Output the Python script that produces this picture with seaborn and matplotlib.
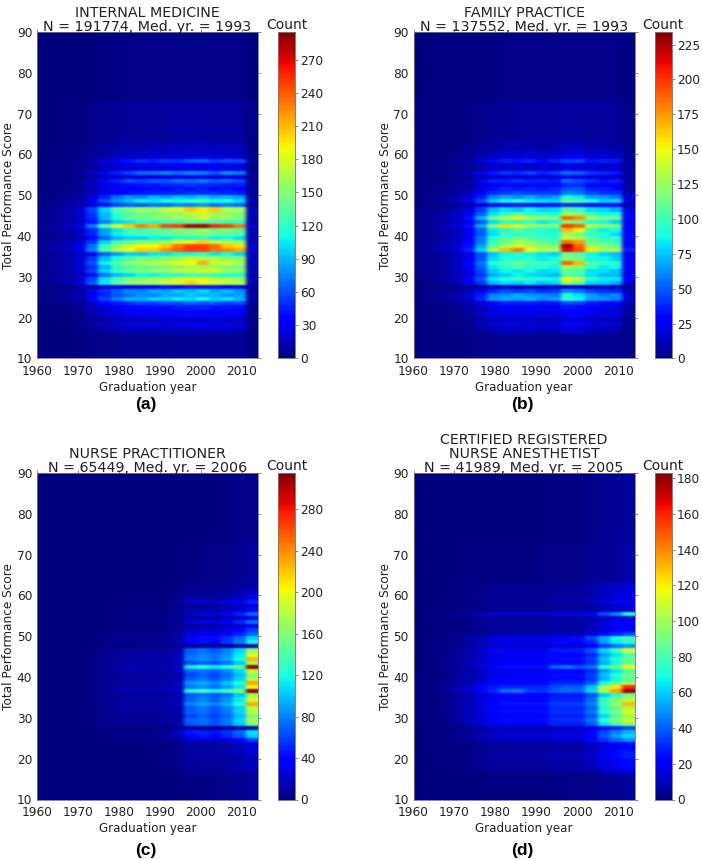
"""
Four heatmaps of total performance score against graduation year
"""

import numpy as np
import pandas as pd
import matplotlib
matplotlib.use("Agg")
import matplotlib.pyplot as plt
import seaborn as sns

YEARS = [1960, 1963, 1966, 1969, 1972, 1975, 1978, 1981, 1984,
         1987, 1990, 1993, 1996, 1999, 2002, 2005, 2008, 2011]
SCORES = list(range(62, 15, -1))

# one row per score, from 62 down to 16, one column per entry in YEARS
medicine = [
    [1, 1, 2, 2, 4, 7, 9, 12, 11, 13, 14, 16, 14, 17, 14, 15, 13, 2],
    [1, 1, 2, 3, 5, 8, 11, 14, 12, 15, 14, 17, 16, 16, 15, 16, 14, 2],
    [1, 1, 2, 3, 6, 10, 14, 15, 18, 16, 19, 18, 21, 18, 20, 17, 18, 3],
    [1, 2, 2, 3, 6, 11, 15, 18, 16, 21, 19, 23, 21, 24, 19, 21, 18, 3],
    [2, 3, 4, 6, 12, 22, 34, 42, 50, 46, 54, 52, 60, 66, 55, 60, 58, 7],
    [1, 2, 3, 4, 9, 15, 21, 26, 24, 28, 26, 30, 28, 32, 27, 29, 25, 4],
    [1, 2, 2, 4, 8, 14, 19, 21, 24, 23, 26, 25, 29, 26, 27, 24, 26, 4],
    [2, 3, 5, 8, 16, 32, 46, 56, 68, 70, 78, 68, 78, 74, 62, 80, 72, 8],
    [1, 2, 2, 4, 8, 14, 19, 23, 21, 25, 23, 27, 25, 28, 24, 26, 23, 4],
    [2, 3, 5, 7, 18, 36, 48, 60, 56, 64, 62, 72, 66, 74, 64, 68, 58, 7],
    [1, 2, 4, 6, 14, 25, 33, 38, 43, 41, 47, 44, 51, 48, 48, 43, 46, 5],
    [1, 2, 3, 6, 13, 22, 30, 37, 34, 40, 37, 44, 40, 46, 38, 42, 37, 5],
    [2, 3, 4, 7, 15, 28, 34, 38, 44, 42, 48, 46, 52, 48, 50, 44, 46, 6],
    [2, 4, 5, 9, 24, 46, 68, 82, 76, 90, 84, 94, 88, 96, 86, 90, 80, 9],
    [3, 5, 8, 13, 30, 60, 80, 92, 108, 102, 116, 110, 122, 128, 110, 116, 102, 11],
    [2, 4, 6, 10, 22, 40, 54, 64, 62, 70, 68, 76, 74, 82, 70, 74, 66, 8],
    [5, 8, 13, 22, 56, 100, 132, 148, 158, 156, 172, 182, 205, 195, 205, 168, 165, 16],
    [5, 8, 12, 20, 52, 92, 118, 132, 146, 142, 156, 150, 168, 172, 160, 152, 148, 14],
    [4, 7, 11, 20, 48, 90, 118, 142, 138, 156, 150, 168, 158, 182, 156, 164, 146, 13],
    [4, 6, 10, 16, 42, 74, 96, 104, 118, 112, 126, 122, 136, 130, 130, 118, 122, 11],
    [6, 10, 15, 26, 72, 135, 185, 205, 228, 215, 245, 250, 280, 285, 258, 250, 232, 22],
    [4, 7, 11, 18, 46, 82, 104, 124, 120, 132, 130, 146, 142, 156, 138, 144, 130, 13],
    [4, 7, 11, 18, 48, 84, 108, 120, 132, 130, 142, 140, 152, 150, 146, 136, 138, 13],
    [3, 6, 9, 15, 38, 66, 88, 100, 98, 108, 106, 116, 114, 122, 108, 114, 102, 11],
    [5, 8, 13, 22, 54, 98, 124, 136, 150, 150, 162, 180, 190, 202, 172, 168, 156, 16],
    [6, 10, 16, 26, 68, 122, 155, 178, 188, 190, 205, 232, 250, 248, 235, 205, 198, 20],
    [7, 12, 17, 30, 74, 132, 168, 188, 205, 205, 225, 238, 250, 248, 232, 228, 215, 22],
    [3, 6, 9, 14, 36, 64, 82, 96, 94, 104, 104, 114, 110, 122, 104, 112, 100, 11],
    [5, 8, 12, 20, 52, 92, 116, 128, 144, 138, 152, 154, 176, 162, 164, 148, 152, 14],
    [6, 9, 14, 24, 60, 108, 136, 158, 160, 172, 172, 186, 186, 215, 176, 185, 166, 17],
    [5, 8, 12, 20, 50, 88, 116, 126, 138, 138, 148, 150, 164, 158, 156, 142, 146, 14],
    [5, 9, 13, 22, 56, 98, 124, 144, 146, 156, 158, 172, 168, 182, 182, 162, 154, 16],
    [4, 6, 10, 16, 40, 70, 92, 100, 110, 108, 118, 116, 128, 124, 122, 112, 114, 11],
    [5, 8, 13, 22, 56, 102, 128, 148, 150, 162, 162, 178, 176, 185, 166, 168, 158, 16],
    [6, 9, 14, 24, 62, 106, 138, 152, 166, 164, 176, 182, 202, 188, 186, 172, 172, 17],
    [1, 2, 3, 6, 13, 22, 30, 33, 38, 36, 41, 39, 44, 42, 42, 38, 40, 4],
    [3, 5, 7, 12, 28, 50, 64, 78, 76, 88, 84, 96, 90, 102, 86, 94, 80, 8],
    [3, 4, 7, 11, 27, 48, 62, 70, 80, 76, 88, 84, 96, 88, 92, 80, 86, 8],
    [3, 5, 8, 12, 32, 56, 72, 88, 86, 98, 96, 108, 100, 114, 96, 104, 90, 9],
    [2, 3, 5, 8, 19, 34, 44, 50, 58, 54, 62, 58, 68, 62, 64, 56, 60, 6],
    [1, 2, 3, 6, 13, 23, 30, 36, 34, 40, 38, 44, 42, 46, 40, 42, 37, 4],
    [1, 2, 3, 5, 11, 20, 25, 29, 34, 31, 36, 34, 40, 36, 38, 33, 35, 4],
    [1, 2, 3, 4, 10, 18, 24, 29, 27, 31, 30, 34, 33, 37, 31, 33, 29, 3],
    [1, 1, 1, 2, 5, 8, 10, 12, 14, 12, 15, 13, 16, 14, 15, 13, 14, 2],
    [1, 1, 2, 4, 9, 15, 21, 26, 24, 28, 26, 30, 28, 32, 27, 29, 25, 4],
    [1, 1, 1, 3, 6, 10, 13, 15, 18, 16, 19, 18, 20, 19, 20, 17, 18, 3],
    [1, 1, 1, 2, 5, 8, 11, 13, 12, 14, 13, 15, 14, 16, 13, 15, 13, 2],
]
family = [
    [0, 1, 1, 1, 3, 5, 8, 9, 11, 9, 10, 9, 13, 11, 10, 9, 9, 3],
    [0, 1, 1, 1, 3, 6, 7, 10, 9, 11, 9, 10, 12, 13, 9, 10, 8, 3],
    [1, 1, 1, 2, 4, 8, 12, 15, 14, 15, 13, 14, 18, 20, 13, 14, 12, 4],
    [1, 1, 1, 3, 5, 10, 14, 18, 16, 18, 15, 17, 22, 23, 16, 17, 14, 5],
    [1, 2, 3, 5, 8, 18, 28, 35, 32, 36, 30, 36, 44, 46, 32, 36, 34, 8],
    [1, 1, 1, 2, 4, 9, 14, 14, 17, 14, 15, 13, 21, 19, 16, 13, 15, 4],
    [1, 1, 1, 3, 5, 10, 15, 16, 19, 16, 17, 15, 24, 21, 18, 15, 16, 5],
    [1, 2, 3, 6, 11, 22, 34, 42, 38, 44, 36, 42, 56, 52, 42, 38, 34, 10],
    [1, 1, 1, 3, 4, 10, 14, 18, 16, 18, 15, 17, 22, 23, 16, 17, 14, 5],
    [1, 2, 3, 6, 10, 22, 36, 36, 42, 36, 38, 34, 54, 48, 40, 33, 36, 10],
    [1, 2, 2, 4, 8, 16, 24, 30, 28, 31, 26, 30, 38, 39, 28, 29, 25, 8],
    [1, 2, 3, 5, 10, 20, 31, 38, 35, 38, 34, 37, 48, 50, 36, 36, 31, 9],
    [1, 2, 4, 6, 12, 24, 38, 42, 48, 42, 44, 42, 60, 56, 46, 40, 40, 11],
    [2, 3, 5, 9, 16, 35, 60, 68, 62, 70, 60, 66, 88, 84, 66, 64, 56, 16],
    [3, 4, 7, 11, 22, 46, 76, 86, 94, 84, 82, 78, 112, 104, 90, 76, 78, 20],
    [1, 2, 2, 4, 8, 16, 26, 28, 32, 28, 28, 26, 39, 36, 30, 26, 27, 8],
    [2, 4, 6, 10, 20, 42, 72, 82, 76, 86, 78, 80, 106, 100, 80, 78, 70, 20],
    [3, 5, 8, 12, 24, 50, 82, 94, 104, 94, 94, 88, 128, 118, 98, 86, 88, 24],
    [4, 7, 10, 16, 32, 70, 112, 136, 154, 130, 124, 118, 188, 178, 130, 118, 114, 30],
    [3, 4, 7, 12, 22, 48, 80, 90, 88, 94, 84, 88, 118, 112, 88, 86, 78, 22],
    [4, 7, 10, 16, 32, 68, 122, 158, 146, 132, 122, 122, 200, 188, 136, 122, 118, 30],
    [3, 5, 8, 12, 24, 50, 84, 92, 104, 92, 94, 86, 168, 150, 98, 84, 88, 24],
    [3, 5, 8, 12, 24, 50, 80, 98, 94, 100, 90, 94, 126, 118, 92, 92, 80, 24],
    [3, 5, 8, 14, 26, 56, 92, 102, 112, 102, 100, 94, 138, 130, 108, 92, 96, 26],
    [3, 6, 9, 14, 28, 58, 96, 112, 132, 126, 108, 104, 186, 174, 110, 104, 96, 28],
    [4, 6, 10, 16, 32, 66, 110, 128, 138, 130, 122, 118, 226, 188, 128, 118, 112, 31],
    [4, 7, 12, 18, 36, 78, 130, 165, 182, 150, 135, 130, 212, 195, 155, 130, 130, 36],
    [3, 4, 7, 11, 22, 46, 74, 86, 92, 86, 82, 76, 112, 104, 86, 78, 74, 21],
    [3, 4, 7, 12, 22, 48, 80, 90, 88, 94, 84, 88, 118, 112, 88, 86, 78, 22],
    [3, 5, 8, 14, 26, 56, 94, 104, 112, 104, 100, 96, 190, 168, 106, 94, 94, 26],
    [3, 5, 8, 12, 24, 50, 84, 94, 104, 92, 94, 86, 126, 118, 98, 84, 88, 24],
    [3, 4, 7, 11, 22, 46, 76, 86, 84, 88, 80, 82, 112, 104, 82, 82, 74, 21],
    [2, 4, 6, 10, 20, 42, 68, 78, 86, 78, 76, 72, 104, 98, 82, 72, 72, 20],
    [3, 5, 8, 12, 24, 50, 84, 92, 100, 94, 90, 86, 150, 138, 94, 84, 84, 24],
    [2, 4, 6, 10, 20, 42, 72, 80, 76, 84, 74, 78, 124, 110, 78, 76, 68, 20],
    [1, 1, 1, 2, 4, 8, 13, 15, 15, 15, 14, 13, 20, 19, 14, 13, 13, 4],
    [1, 2, 4, 6, 12, 24, 38, 46, 42, 46, 40, 42, 62, 56, 44, 40, 38, 11],
    [2, 3, 5, 9, 16, 35, 58, 62, 70, 62, 62, 56, 92, 80, 66, 55, 62, 16],
    [2, 4, 6, 9, 18, 38, 64, 70, 66, 72, 62, 66, 94, 86, 66, 64, 58, 18],
    [1, 2, 3, 5, 9, 18, 30, 35, 33, 35, 32, 32, 46, 44, 34, 31, 30, 9],
    [1, 1, 2, 4, 7, 13, 21, 25, 24, 25, 22, 23, 33, 31, 24, 23, 20, 6],
    [1, 1, 2, 3, 6, 12, 19, 22, 20, 22, 20, 21, 29, 27, 22, 19, 19, 6],
    [1, 1, 2, 3, 6, 12, 20, 20, 23, 20, 21, 19, 30, 28, 21, 20, 18, 6],
    [0, 1, 1, 2, 3, 6, 10, 12, 12, 12, 10, 11, 16, 15, 11, 11, 10, 3],
    [1, 1, 2, 3, 6, 12, 19, 22, 20, 22, 20, 21, 29, 27, 22, 19, 19, 6],
    [0, 1, 1, 2, 3, 7, 12, 13, 15, 13, 13, 12, 18, 18, 13, 13, 11, 4],
    [0, 1, 1, 2, 3, 6, 10, 12, 11, 12, 10, 11, 16, 15, 11, 11, 9, 3],
]
nurse = [
    [0, 0, 0, 0, 0, 0, 0, 1, 1, 1, 1, 2, 4, 4, 5, 6, 8, 12],
    [0, 0, 0, 0, 0, 0, 1, 1, 1, 1, 1, 2, 5, 5, 6, 7, 10, 15],
    [0, 0, 0, 0, 0, 0, 1, 1, 1, 1, 2, 3, 7, 7, 7, 9, 13, 20],
    [0, 0, 0, 0, 0, 1, 1, 1, 2, 2, 2, 4, 10, 10, 10, 12, 18, 30],
    [0, 0, 0, 0, 1, 1, 2, 3, 3, 3, 4, 8, 20, 22, 20, 28, 32, 50],
    [0, 0, 0, 0, 0, 1, 1, 1, 2, 2, 2, 3, 8, 8, 9, 11, 16, 25],
    [0, 0, 0, 0, 0, 1, 1, 2, 2, 2, 2, 4, 11, 12, 12, 15, 22, 35],
    [0, 0, 0, 0, 1, 1, 3, 3, 4, 4, 5, 8, 22, 26, 24, 35, 48, 72],
    [0, 0, 0, 0, 0, 1, 1, 2, 2, 2, 2, 3, 9, 10, 11, 14, 20, 30],
    [0, 0, 0, 0, 1, 1, 3, 3, 4, 4, 5, 9, 24, 30, 28, 38, 50, 74],
    [0, 0, 0, 0, 0, 1, 1, 2, 2, 2, 2, 4, 9, 10, 11, 14, 20, 30],
    [0, 0, 0, 0, 1, 1, 2, 3, 3, 3, 4, 7, 20, 24, 22, 28, 38, 58],
    [0, 0, 0, 0, 1, 2, 3, 4, 4, 4, 5, 9, 25, 30, 28, 36, 48, 72],
    [0, 0, 0, 0, 1, 3, 4, 5, 6, 6, 7, 12, 36, 44, 42, 55, 72, 105],
    [0, 0, 0, 1, 1, 3, 5, 6, 7, 7, 8, 13, 38, 44, 40, 55, 78, 118],
    [0, 0, 0, 0, 0, 1, 1, 1, 1, 1, 1, 2, 5, 6, 6, 8, 10, 15],
    [0, 0, 0, 1, 2, 5, 7, 9, 9, 9, 10, 14, 68, 74, 66, 78, 105, 170],
    [0, 0, 0, 1, 2, 6, 8, 10, 10, 10, 11, 15, 72, 80, 74, 85, 112, 195],
    [0, 0, 0, 1, 2, 7, 9, 11, 11, 11, 13, 18, 78, 86, 76, 90, 118, 225],
    [0, 0, 0, 1, 2, 5, 7, 9, 9, 9, 10, 14, 60, 68, 62, 75, 100, 170],
    [1, 1, 1, 1, 3, 7, 12, 14, 13, 13, 15, 20, 115, 130, 112, 125, 145, 310],
    [0, 0, 0, 1, 2, 6, 8, 10, 10, 10, 11, 15, 70, 76, 68, 82, 108, 190],
    [0, 0, 0, 1, 2, 5, 7, 8, 8, 8, 9, 13, 60, 68, 60, 72, 98, 160],
    [0, 0, 0, 1, 2, 5, 7, 9, 9, 9, 10, 14, 68, 76, 66, 80, 105, 180],
    [0, 0, 0, 1, 2, 7, 9, 11, 11, 11, 13, 18, 85, 94, 82, 100, 125, 232],
    [0, 0, 0, 1, 2, 6, 8, 10, 10, 10, 11, 15, 76, 84, 74, 88, 112, 202],
    [1, 1, 1, 1, 3, 7, 12, 14, 14, 14, 15, 22, 122, 135, 116, 135, 155, 312],
    [0, 0, 0, 1, 2, 5, 7, 8, 8, 8, 9, 13, 64, 72, 64, 75, 100, 170],
    [0, 0, 0, 1, 2, 6, 8, 9, 9, 9, 10, 14, 70, 82, 70, 85, 112, 190],
    [0, 0, 0, 1, 2, 6, 8, 10, 11, 11, 12, 15, 80, 92, 80, 95, 125, 230],
    [0, 0, 0, 1, 2, 5, 7, 8, 8, 8, 9, 13, 66, 76, 66, 78, 104, 180],
    [0, 0, 0, 1, 2, 5, 7, 8, 8, 8, 9, 13, 70, 74, 66, 78, 106, 176],
    [0, 0, 0, 1, 1, 4, 6, 7, 7, 7, 8, 11, 60, 68, 58, 70, 95, 160],
    [0, 0, 0, 1, 2, 5, 7, 8, 8, 8, 9, 13, 70, 74, 66, 78, 106, 170],
    [0, 0, 0, 1, 1, 4, 6, 7, 7, 7, 8, 12, 66, 72, 62, 75, 102, 160],
    [0, 0, 0, 0, 0, 1, 1, 1, 1, 1, 1, 2, 7, 7, 7, 8, 10, 15],
    [0, 0, 0, 0, 1, 2, 3, 4, 4, 5, 6, 18, 46, 50, 44, 55, 72, 110],
    [0, 0, 0, 0, 1, 2, 3, 3, 4, 5, 6, 14, 40, 46, 40, 50, 66, 105],
    [0, 0, 0, 0, 0, 1, 2, 2, 3, 3, 4, 8, 22, 26, 22, 28, 36, 60],
    [0, 0, 0, 0, 0, 1, 1, 1, 1, 2, 2, 4, 9, 10, 10, 12, 16, 25],
    [0, 0, 0, 0, 0, 0, 1, 1, 1, 2, 2, 4, 9, 10, 10, 12, 16, 25],
    [0, 0, 0, 0, 0, 0, 1, 1, 1, 2, 2, 4, 10, 10, 10, 12, 16, 25],
    [0, 0, 0, 0, 0, 0, 1, 1, 1, 1, 2, 3, 7, 8, 8, 9, 12, 18],
    [0, 0, 0, 0, 0, 0, 1, 1, 1, 1, 2, 3, 7, 8, 8, 9, 12, 18],
    [0, 0, 0, 0, 0, 0, 1, 1, 1, 1, 2, 3, 8, 8, 8, 9, 12, 18],
    [0, 0, 0, 0, 0, 0, 1, 1, 1, 1, 2, 3, 7, 8, 8, 9, 12, 18],
    [0, 0, 0, 0, 0, 0, 0, 1, 1, 1, 1, 2, 5, 5, 6, 7, 8, 12],
]
anesthetist = [
    [0, 0, 0, 1, 2, 2, 3, 4, 4, 4, 4, 5, 5, 5, 7, 10, 13, 16],
    [0, 0, 0, 1, 1, 2, 3, 3, 3, 3, 3, 4, 4, 4, 6, 9, 11, 14],
    [0, 0, 0, 1, 2, 2, 3, 4, 4, 4, 4, 5, 5, 5, 7, 10, 13, 16],
    [0, 0, 0, 1, 2, 2, 3, 4, 4, 4, 4, 5, 5, 5, 7, 10, 13, 16],
    [0, 0, 1, 1, 2, 3, 5, 5, 5, 5, 5, 6, 6, 6, 10, 15, 20, 22],
    [0, 0, 0, 1, 1, 2, 3, 3, 3, 3, 3, 4, 4, 4, 6, 9, 11, 14],
    [0, 0, 0, 1, 1, 2, 3, 3, 3, 3, 3, 4, 4, 4, 6, 9, 11, 14],
    [0, 1, 2, 3, 6, 9, 13, 15, 15, 15, 15, 16, 17, 17, 24, 36, 46, 70],
    [0, 0, 0, 1, 2, 2, 3, 4, 4, 4, 4, 5, 5, 5, 7, 10, 13, 16],
    [0, 0, 1, 1, 2, 3, 5, 5, 5, 5, 5, 6, 6, 6, 10, 15, 20, 22],
    [0, 0, 1, 1, 2, 3, 5, 5, 5, 5, 5, 6, 6, 6, 10, 15, 20, 22],
    [0, 0, 1, 1, 2, 3, 5, 5, 5, 5, 5, 6, 6, 6, 10, 15, 20, 22],
    [0, 0, 1, 2, 3, 5, 7, 8, 8, 8, 8, 10, 10, 10, 14, 24, 30, 36],
    [0, 1, 2, 3, 7, 10, 15, 17, 17, 17, 17, 21, 21, 25, 36, 55, 68, 76],
    [0, 1, 2, 3, 7, 10, 15, 17, 17, 17, 17, 21, 21, 22, 30, 52, 66, 74],
    [0, 1, 1, 2, 4, 7, 10, 11, 11, 11, 11, 14, 14, 14, 20, 32, 42, 50],
    [0, 1, 2, 4, 9, 13, 20, 22, 22, 22, 22, 26, 27, 28, 38, 62, 78, 112],
    [0, 1, 2, 3, 7, 10, 15, 17, 17, 17, 17, 21, 21, 21, 30, 50, 64, 78],
    [0, 1, 2, 4, 8, 12, 18, 22, 22, 20, 20, 25, 25, 25, 34, 58, 72, 88],
    [0, 1, 2, 4, 8, 11, 17, 19, 19, 19, 19, 24, 24, 24, 32, 54, 68, 84],
    [0, 1, 3, 5, 10, 15, 22, 25, 25, 25, 25, 42, 45, 38, 44, 72, 90, 118],
    [0, 1, 2, 3, 7, 10, 15, 17, 17, 17, 17, 21, 21, 21, 30, 50, 64, 78],
    [0, 1, 2, 4, 8, 12, 18, 20, 20, 20, 20, 25, 25, 25, 34, 58, 72, 90],
    [0, 1, 2, 4, 8, 11, 17, 19, 19, 19, 19, 24, 24, 24, 32, 54, 68, 84],
    [1, 1, 2, 5, 9, 14, 21, 23, 23, 23, 23, 29, 29, 29, 40, 70, 84, 100],
    [1, 2, 3, 6, 13, 19, 27, 30, 30, 30, 30, 36, 40, 40, 58, 102, 122, 158],
    [1, 2, 3, 7, 14, 20, 30, 44, 46, 34, 32, 40, 44, 42, 62, 105, 135, 178],
    [0, 1, 2, 4, 8, 13, 19, 21, 21, 21, 21, 26, 26, 26, 36, 60, 74, 90],
    [1, 1, 2, 5, 10, 14, 22, 24, 24, 24, 24, 30, 30, 30, 42, 74, 90, 105],
    [1, 1, 3, 5, 10, 16, 23, 26, 26, 26, 26, 33, 33, 33, 46, 80, 98, 130],
    [0, 1, 2, 5, 9, 14, 21, 23, 23, 23, 23, 29, 29, 29, 40, 70, 84, 100],
    [1, 1, 2, 5, 10, 15, 22, 25, 25, 25, 25, 31, 31, 31, 44, 76, 92, 118],
    [0, 1, 2, 4, 9, 13, 20, 22, 22, 22, 22, 28, 28, 28, 38, 62, 80, 96],
    [1, 1, 2, 5, 10, 15, 22, 25, 25, 25, 25, 31, 31, 31, 44, 76, 94, 112],
    [0, 1, 2, 4, 9, 13, 20, 22, 22, 22, 22, 28, 28, 28, 38, 64, 80, 95],
    [0, 0, 1, 2, 3, 5, 7, 8, 8, 8, 8, 10, 10, 10, 14, 24, 30, 36],
    [0, 1, 1, 2, 5, 7, 11, 12, 12, 12, 12, 15, 15, 15, 22, 36, 46, 56],
    [0, 1, 1, 3, 5, 8, 12, 13, 13, 13, 13, 16, 16, 16, 24, 38, 52, 62],
    [0, 1, 1, 2, 4, 7, 10, 11, 11, 11, 11, 14, 14, 14, 20, 32, 42, 50],
    [0, 0, 1, 1, 2, 3, 5, 5, 5, 5, 5, 6, 6, 6, 10, 16, 20, 24],
    [0, 0, 1, 1, 2, 3, 5, 5, 5, 5, 5, 6, 6, 6, 10, 16, 20, 24],
    [0, 0, 1, 1, 2, 4, 5, 6, 6, 6, 6, 8, 8, 8, 12, 18, 24, 28],
    [0, 0, 1, 1, 2, 4, 5, 6, 6, 6, 6, 8, 8, 8, 12, 18, 24, 28],
    [0, 0, 1, 1, 2, 3, 5, 5, 5, 5, 5, 6, 6, 6, 10, 16, 20, 24],
    [0, 0, 1, 1, 2, 3, 5, 5, 5, 5, 5, 6, 6, 6, 10, 16, 20, 24],
    [0, 0, 0, 1, 2, 3, 4, 4, 4, 4, 4, 6, 6, 6, 8, 13, 17, 20],
    [0, 0, 0, 0, 1, 1, 2, 2, 2, 2, 2, 3, 3, 3, 4, 7, 9, 11],
]

# the faint bands: scores 73 and up, 63 to 72, and below 16
medicine_bands = [[1, 1, 1, 1, 1, 2, 2, 3, 3, 3, 3, 4, 4, 4, 4, 4, 3, 1],
                  [1, 1, 2, 2, 4, 5, 6, 7, 8, 8, 8, 10, 10, 10, 9, 9, 9, 3],
                  [1, 1, 1, 2, 3, 4, 4, 5, 5, 5, 5, 6, 6, 6, 6, 6, 6, 2]]
family_bands = [[0, 0, 1, 1, 1, 1, 1, 2, 2, 2, 2, 2, 3, 3, 3, 3, 2, 1],
                [1, 1, 1, 1, 2, 3, 4, 5, 6, 6, 6, 6, 7, 7, 6, 6, 6, 2],
                [1, 1, 1, 1, 2, 3, 3, 4, 4, 4, 4, 4, 5, 5, 4, 4, 4, 2]]
nurse_bands = [[0, 0, 0, 0, 0, 0, 0, 0, 0, 0, 0, 0, 1, 1, 1, 2, 3, 4],
               [0, 0, 0, 0, 0, 0, 0, 0, 1, 1, 1, 1, 2, 3, 3, 4, 6, 8],
               [0, 0, 0, 0, 0, 0, 0, 0, 0, 1, 1, 1, 2, 2, 3, 4, 5, 8]]
anesthetist_bands = [[0, 0, 0, 0, 0, 0, 0, 0, 0, 0, 0, 1, 1, 1, 2, 3, 4, 5],
                     [0, 0, 0, 0, 1, 1, 1, 1, 1, 1, 2, 2, 2, 2, 3, 4, 5, 7],
                     [0, 0, 0, 0, 0, 0, 1, 1, 1, 1, 1, 1, 2, 2, 2, 3, 4, 5]]

titles = ["INTERNAL MEDICINE\nN = 191774, Med. yr. = 1993",
          "FAMILY PRACTICE\nN = 137552, Med. yr. = 1993",
          "NURSE PRACTITIONER\nN = 65449, Med. yr. = 2006",
          "CERTIFIED REGISTERED\nNURSE ANESTHETIST\nN = 41989, Med. yr. = 2005"]
panel_labels = ["(a)", "(b)", "(c)", "(d)"]
color_limits = [295, 234, 315, 183]
color_ticks = [list(range(0, 271, 30)), list(range(0, 226, 25)),
               list(range(0, 281, 40)), list(range(0, 181, 20))]
year_ticks = [1960, 1970, 1980, 1990, 2000, 2010]
score_ticks = [10, 20, 30, 40, 50, 60, 70, 80, 90]

W, H = 702, 859
TEXT = "#222222"


def box(x0, y0, x1, y1):
    return [x0 / W, 1 - y1 / H, (x1 - x0) / W, (y1 - y0) / H]


def soften(image, dpi):
    # the scan of the original is blurry, so soften the cells a bit
    out = image
    for axis, sigma in ((1, 2.0), (0, 0.9)):
        reach = int(3 * sigma)
        kernel = np.exp(-0.5 * (np.arange(-reach, reach + 1) / sigma) ** 2)
        kernel = kernel / kernel.sum()
        pad = [(0, 0)] * 3
        pad[axis] = (reach, reach)
        padded = np.pad(out, pad, mode="edge")
        out = np.apply_along_axis(np.convolve, axis, padded, kernel, mode="valid")
    return out, 0, 0


def build_table(counts, bands):
    table = pd.DataFrame(counts, index=SCORES, columns=YEARS)
    full = table.reindex(range(10, 90))
    top, upper, lower = bands
    for score in full.index:
        if score >= 73:
            full.loc[score] = top
        elif score >= 63:
            full.loc[score] = upper
        elif score < 16:
            full.loc[score] = lower
    return full


def draw_panel(ax, cax, table, title, vmax, ticks):
    sns.heatmap(table, ax=ax, cbar_ax=cax, cmap="jet", vmin=0, vmax=vmax,
                xticklabels=False, yticklabels=False)
    ax.collections[0].set_agg_filter(soften)

    ax.set_xlim(0, len(YEARS))
    ax.set_ylim(0, len(table))
    ax.set_xticks([(y - YEARS[0]) / 3 for y in year_ticks])
    ax.set_xticklabels(year_ticks, rotation=0, fontsize=8.7, color=TEXT)
    ax.set_yticks([s - score_ticks[0] for s in score_ticks])
    ax.set_yticklabels(score_ticks, rotation=0, fontsize=8.7, color=TEXT)
    ax.tick_params(axis="both", length=2, width=0.6, color="#777777", pad=1.5,
                   right=True, top=True)
    ax.tick_params(axis="x", pad=3)
    for spine in ax.spines.values():
        spine.set_visible(True)
        spine.set_color("#777777")
        spine.set_linewidth(0.6)

    ax.set_xlabel("Graduation year", fontsize=8.6, color=TEXT, labelpad=1.5)
    ax.set_ylabel("Total Performance Score", fontsize=8.7, color=TEXT, labelpad=1)
    ax.set_title(title, fontsize=10.3, color=TEXT, pad=1, linespacing=1.0)

    cax.set_yticks(ticks)
    cax.set_yticklabels(ticks, fontsize=8.7, color=TEXT)
    cax.tick_params(axis="y", length=2, width=0.6, color="#777777", pad=2)
    cax.set_title("Count", fontsize=10, color=TEXT, pad=1)
    for spine in cax.spines.values():
        spine.set_visible(True)
        spine.set_color("#777777")
        spine.set_linewidth(0.5)


sns.set_style("white")
fig = plt.figure(figsize=(W / 100, H / 100), dpi=100)

panels = [(medicine, medicine_bands), (family, family_bands),
          (nurse, nurse_bands), (anesthetist, anesthetist_bands)]
left_edges = [37, 413.5, 37, 413.5]
top_edges = [32, 32, 473, 473]
label_y = [405, 405, 850, 850]

for i, (counts, bands) in enumerate(panels):
    x0, y0 = left_edges[i], top_edges[i]
    ax = fig.add_axes(box(x0, y0, x0 + 221, y0 + 326.5))
    cax = fig.add_axes(box(x0 + 241, y0, x0 + 258, y0 + 326.5))
    draw_panel(ax, cax, build_table(counts, bands), titles[i],
               color_limits[i], color_ticks[i])
    fig.text((x0 + 109) / W, 1 - label_y[i] / H, panel_labels[i], ha="center",
             va="center", fontsize=12.5, fontweight="bold",
             family="Liberation Sans", color="black")

fig.savefig("out.png", dpi=100)
